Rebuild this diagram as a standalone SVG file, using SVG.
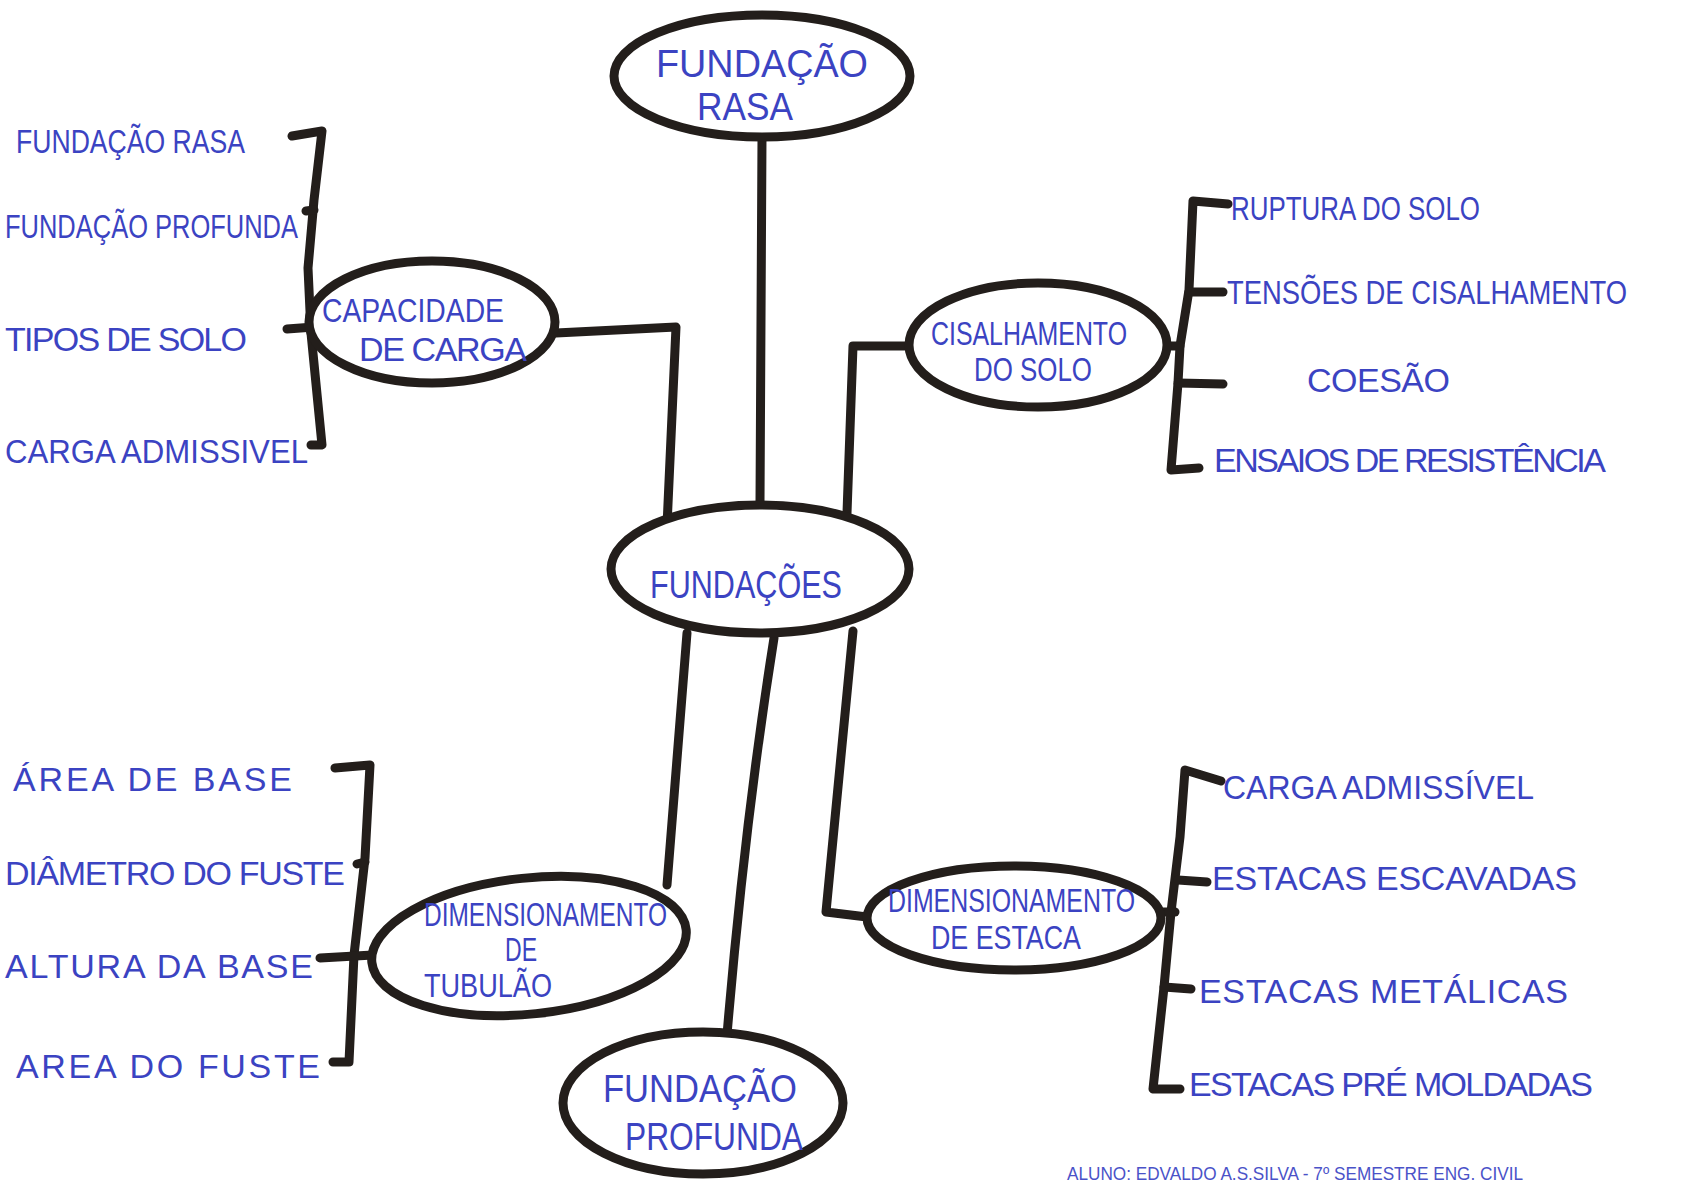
<svg xmlns="http://www.w3.org/2000/svg" width="1682" height="1192" viewBox="0 0 1682 1192">
<style>
.ink{fill:none;stroke:#231e1b;stroke-width:9;stroke-linecap:round;stroke-linejoin:round}
.node{fill:#fff;stroke:#231e1b;stroke-width:9}
.t{font-family:"Liberation Sans",Arial,sans-serif;fill:#3b43c2;font-size:34px}
.n{font-family:"Liberation Sans",Arial,sans-serif;fill:#3b43c2;font-size:38px}
.f{font-family:"Liberation Sans",Arial,sans-serif;fill:#4a52c8;font-size:19px}
</style>
<rect width="1682" height="1192" fill="#fff"/>
<g id="connectors">
<path class="ink" d="M762 137 L760 502"/>
<path class="ink" d="M556 333 L676 327 L667 526"/>
<path class="ink" d="M910 346 L853 346 L847 513"/>
<path class="ink" d="M667 885 L687 633"/>
<path class="ink" d="M774 638 Q745 820 727 1035"/>
<path class="ink" d="M867 917 L826 912 L853 631"/>
<path class="ink" d="M292 136 L322 131 L314 200 L308 268 L311 333 L322 445 L311 445"/>
<path class="ink" d="M306 211 L314 210"/>
<path class="ink" d="M287 329 L314 327"/>
<path class="ink" d="M1228 204 L1193 201 L1189 290 L1180 346 L1178 383 L1171 470 L1199 468"/>
<path class="ink" d="M1189 292 L1223 292"/>
<path class="ink" d="M1167 346 L1180 346"/>
<path class="ink" d="M1178 383 L1223 384"/>
<path class="ink" d="M335 768 L370 765 L365 858 L354 955 L349 1062 L333 1062"/>
<path class="ink" d="M357 864 L365 862"/>
<path class="ink" d="M320 958 L373 955"/>
<path class="ink" d="M1221 781 L1185 770 L1180 837 L1171 912 L1164 987 L1153 1089 L1180 1089"/>
<path class="ink" d="M1178 880 L1207 882"/>
<path class="ink" d="M1161 912 L1175 912"/>
<path class="ink" d="M1164 987 L1191 989"/>
</g>
<g id="fundacao-rasa">
<ellipse class="node" cx="762" cy="76" rx="148" ry="61"/>
<text class="n" x="656" y="77" textLength="212" lengthAdjust="spacingAndGlyphs">FUNDAÇÃO</text>
<text class="n" x="697" y="120" textLength="96" lengthAdjust="spacingAndGlyphs">RASA</text>
</g>
<g id="fundacoes">
<ellipse class="node" cx="760" cy="569" rx="149" ry="64"/>
<text class="n" x="650" y="598" font-size="44" textLength="192" lengthAdjust="spacingAndGlyphs">FUNDAÇÕES</text>
</g>
<g id="capacidade">
<ellipse class="node" cx="432" cy="322" rx="123" ry="61"/>
<text class="t" x="322" y="322" font-size="30" textLength="182" lengthAdjust="spacingAndGlyphs">CAPACIDADE</text>
<text class="t" x="359" y="361" font-size="30" textLength="168" lengthAdjust="spacing">DE CARGA</text>
</g>
<g id="cisalhamento">
<ellipse class="node" cx="1038" cy="345" rx="129" ry="62"/>
<text class="t" x="931" y="345" font-size="26" textLength="196" lengthAdjust="spacingAndGlyphs">CISALHAMENTO</text>
<text class="t" x="974" y="381" font-size="26" textLength="118" lengthAdjust="spacingAndGlyphs">DO SOLO</text>
</g>
<g id="tubulao">
<ellipse class="node" cx="529" cy="946" rx="158" ry="68" transform="rotate(-6 529 946)"/>
<text class="t" x="424" y="926" font-size="27" textLength="243" lengthAdjust="spacingAndGlyphs">DIMENSIONAMENTO</text>
<text class="t" x="505" y="961" font-size="22" textLength="32" lengthAdjust="spacingAndGlyphs">DE</text>
<text class="t" x="424" y="997" font-size="28" textLength="128" lengthAdjust="spacingAndGlyphs">TUBULÃO</text>
</g>
<g id="fundacao-profunda">
<ellipse class="node" cx="703" cy="1103" rx="140" ry="71"/>
<text class="n" x="603" y="1102" textLength="194" lengthAdjust="spacingAndGlyphs">FUNDAÇÃO</text>
<text class="n" x="625" y="1150" textLength="178" lengthAdjust="spacingAndGlyphs">PROFUNDA</text>
</g>
<g id="estaca">
<ellipse class="node" cx="1014" cy="918" rx="147" ry="52"/>
<text class="t" x="888" y="912" font-size="27" textLength="247" lengthAdjust="spacingAndGlyphs">DIMENSIONAMENTO</text>
<text class="t" x="931" y="949" font-size="27" textLength="150" lengthAdjust="spacingAndGlyphs">DE ESTACA</text>
</g>
<g id="leaves-capacidade">
<text class="t" x="16" y="153" font-size="28" textLength="229" lengthAdjust="spacingAndGlyphs">FUNDAÇÃO RASA</text>
<text class="t" x="5" y="238" font-size="27" textLength="293" lengthAdjust="spacingAndGlyphs">FUNDAÇÃO PROFUNDA</text>
<text class="t" x="5" y="351" textLength="242" lengthAdjust="spacing">TIPOS DE SOLO</text>
<text class="t" x="5" y="463" font-size="33" textLength="303" lengthAdjust="spacingAndGlyphs">CARGA ADMISSIVEL</text>
</g>
<g id="leaves-cisalhamento">
<text class="t" x="1231" y="220" font-size="28" textLength="249" lengthAdjust="spacingAndGlyphs">RUPTURA DO SOLO</text>
<text class="t" x="1227" y="304" font-size="28" textLength="400" lengthAdjust="spacingAndGlyphs">TENSÕES DE CISALHAMENTO</text>
<text class="t" x="1307" y="392" font-size="30" textLength="143" lengthAdjust="spacing">COESÃO</text>
<text class="t" x="1214" y="472" font-size="30" textLength="392" lengthAdjust="spacing">ENSAIOS DE RESISTÊNCIA</text>
</g>
<g id="leaves-tubulao">
<text class="t" x="13" y="791" textLength="279" lengthAdjust="spacing">ÁREA DE BASE</text>
<text class="t" x="5" y="885" textLength="340" lengthAdjust="spacing">DIÂMETRO DO FUSTE</text>
<text class="t" x="5" y="978" textLength="308" lengthAdjust="spacing">ALTURA DA BASE</text>
<text class="t" x="16" y="1078" textLength="304" lengthAdjust="spacing">AREA DO FUSTE</text>
</g>
<g id="leaves-estaca">
<text class="t" x="1223" y="799" font-size="32" textLength="311" lengthAdjust="spacingAndGlyphs">CARGA ADMISSÍVEL</text>
<text class="t" x="1212" y="890" font-size="32" textLength="365" lengthAdjust="spacing">ESTACAS ESCAVADAS</text>
<text class="t" x="1199" y="1003" textLength="369" lengthAdjust="spacing">ESTACAS METÁLICAS</text>
<text class="t" x="1189" y="1096" textLength="404" lengthAdjust="spacing">ESTACAS PRÉ MOLDADAS</text>
</g>
<text class="f" x="1067" y="1180" textLength="456" lengthAdjust="spacingAndGlyphs">ALUNO: EDVALDO A.S.SILVA - 7º SEMESTRE ENG. CIVIL</text>
</svg>
